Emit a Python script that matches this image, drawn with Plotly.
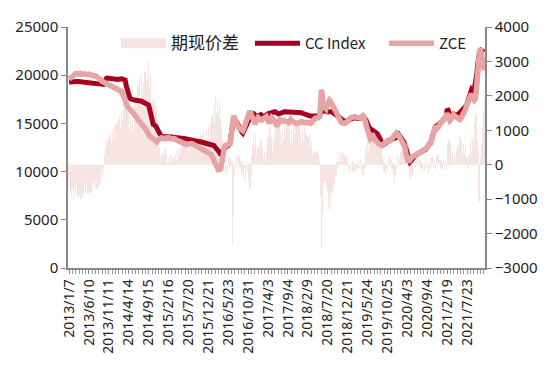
import plotly.graph_objects as go

tick_labels = ["2013/1/7", "2013/6/10", "2013/11/11", "2014/4/14", "2014/9/15", "2015/2/16",
               "2015/7/20", "2015/12/21", "2016/5/23", "2016/10/31", "2017/4/3", "2017/9/4",
               "2018/2/9", "2018/7/20", "2018/12/21", "2019/5/24", "2019/10/25", "2020/4/3",
               "2020/9/4", "2021/2/19", "2021/7/23"]

cc_index = [
19300,19320,19340,19350,19360,19350,19340,19350,19360,19350,
19350,19340,19330,19320,19320,19310,19300,19300,19290,19280,
19300,19290,19270,19260,19250,19240,19230,19210,19200,19190,
19200,19180,19160,19140,19120,19100,19100,19080,19050,19300,
19600,19650,19700,19680,19650,19700,19660,19600,19580,19550,
19550,19560,19540,19550,19560,19580,19550,19600,19620,19600,
19600,19550,19500,19000,18500,18200,17900,17700,17550,17500,
17450,17440,17420,17400,17400,17400,17380,17350,17320,17300,
17300,17250,17200,17150,17120,17100,17050,17000,16900,16500,
16000,15400,15000,14900,14850,14800,14700,14500,14300,14000,
13800,13700,13650,13600,13620,13640,13650,13660,13640,13650,
13650,13620,13600,13580,13560,13550,13540,13520,13510,13500,
13500,13490,13480,13470,13460,13450,13440,13430,13420,13410,
13400,13380,13360,13340,13320,13300,13280,13260,13240,13220,
13200,13180,13160,13140,13120,13100,13080,13060,13040,13020,
13000,12980,12960,12940,12920,12900,12850,12800,12750,12720,
12700,12600,12500,12400,12300,12200,12100,11900,11700,11900,
12300,12500,12600,12600,12600,12600,12700,12850,13000,13700,
14500,15100,15600,15500,15300,15200,15000,14800,14600,14400,
14200,14100,14000,14200,14400,14600,14900,15200,15400,15600,
15700,15800,15900,15950,16000,15900,15800,15750,15700,15800,
15850,15900,15900,15800,15750,15700,15700,15800,15900,15950,
16000,16050,16050,16100,16100,16150,16200,16200,16200,16100,
16050,16000,16000,16050,16100,16100,16100,16150,16200,16200,
16200,16150,16100,16100,16100,16100,16150,16150,16200,16200,
16200,16200,16150,16150,16150,16150,16100,16100,16050,16000,
16000,15950,15900,15850,15800,15800,15780,15760,15750,15750,
15750,15760,15780,15800,15800,15800,15850,15900,16100,16200,
16300,16300,16300,16250,16200,16200,16200,16220,16240,16250,
16250,16200,16100,16000,15900,15850,15800,15750,15700,15600,
15500,15400,15300,15250,15200,15200,15200,15250,15300,15350,
15400,15450,15500,15550,15600,15600,15600,15550,15500,15500,
15500,15500,15550,15600,15600,15600,15550,15500,15400,15200,
14900,14600,14500,14450,14400,14300,14200,14150,14100,14050,
14000,13900,13700,13550,13400,13200,13000,12800,12800,12850,
12900,13000,13100,13200,13300,13300,13350,13350,13400,13400,
13400,13500,13800,14100,13900,13700,13600,13400,13300,13200,
13100,12800,12400,12100,11800,11500,11200,11000,11100,11300,
11400,11500,11600,11700,11750,11800,11850,11900,11950,12000,
12000,12050,12100,12200,12300,12400,12500,12650,12800,12950,
13100,13500,13900,14300,14600,14650,14700,14750,14800,14900,
15000,15100,15200,15300,15400,15500,15600,15700,16500,16400,
16100,15800,15800,15900,16000,16000,15950,15900,15900,15850,
15900,16000,16100,16150,16200,16300,16400,16500,16700,16850,
17000,17300,17700,18100,18500,18500,18400,18300,18500,19000,
19500,20300,21300,22200,22500,22600,22550,22500,22450,22400]

zce = [
19600,19700,19800,19900,20000,20100,20200,20150,20100,20150,
20100,20150,20200,20100,20150,20200,20250,20150,20100,20050,
20000,20050,20100,20050,20100,20100,20050,20000,19950,19900,
19900,19850,19800,19700,19600,19500,19400,19350,19300,19250,
19200,19150,19100,19000,18950,18900,18850,18800,18750,18720,
18700,18650,18600,18550,18500,18500,18450,18400,18300,18100,
17800,17600,17400,17200,16900,16700,16600,16500,16400,16350,
16300,16100,15950,15800,15700,15600,15400,15250,15100,15000,
15000,14800,14700,14600,14500,14400,14300,14100,13900,13700,
13600,13550,13500,13400,13300,13200,13150,13100,13250,13350,
13400,13450,13500,13450,13400,13350,13300,13400,13500,13550,
13550,13450,13400,13350,13400,13450,13500,13400,13300,13250,
13200,13150,13100,13050,13000,13000,12950,12900,12850,12800,
12800,12850,12900,12900,12850,12900,12900,12850,12800,12750,
12700,12650,12600,12550,12450,12400,12400,12350,12350,12300,
12300,12250,12200,12150,12050,12000,11900,11800,11600,11400,
11200,11000,10700,10400,10300,10200,10200,10250,10500,11000,
11800,12600,12650,12700,12700,12750,12800,12850,12900,13600,
14500,15200,15800,15500,15200,15000,14800,14600,14500,14400,
14300,14200,14250,14450,14700,14900,15050,15200,15500,15900,
16300,16000,15700,15400,15200,15100,15100,15300,15450,15600,
15500,15400,15300,15350,15450,15500,15550,15650,15700,15500,
15300,15000,15200,15400,15600,15500,15400,15300,15100,14900,
14700,14900,15100,15400,15350,15250,15200,15250,15300,15250,
15150,15050,15000,15100,15250,15400,15300,15200,15100,15050,
15000,15000,15000,15050,15150,15250,15300,15200,15100,15050,
15000,15000,15050,15100,15050,14950,14900,15000,15100,15250,
15400,15450,15500,15550,15500,15550,15650,15700,16800,18500,
17800,16800,16700,16600,16500,16800,17100,17300,17400,17300,
17100,16900,16800,16500,16200,16000,15800,15700,15600,15400,
15200,15100,15050,15000,15000,15000,15050,15200,15350,15450,
15500,15550,15600,15650,15650,15700,15700,15650,15600,15600,
15550,15500,15550,15650,15750,15800,15700,15500,15000,14600,
14300,14000,13700,13400,13500,13650,13700,13500,13300,13100,
13100,13000,12900,12800,12750,12700,12700,12800,12900,13000,
13100,13200,13200,13150,13100,13200,13300,13400,13450,13600,
13800,13900,14000,13900,13800,13600,13400,13100,13000,12900,
12800,12600,12000,11500,11100,11000,11100,11300,11400,11500,
11550,11600,11650,11700,11750,11800,11800,11850,11900,12000,
12100,12150,12200,12250,12300,12400,12600,12800,12900,13000,
13000,13300,13800,14300,14500,14700,14600,14500,14600,14800,
15000,15100,15200,15300,15400,15500,15600,15800,16000,15800,
15500,15300,15400,15600,15800,15900,15800,15700,15600,15500,
15500,15400,15400,15500,15650,15800,15900,16100,16400,16700,
17000,17300,17500,17700,17900,17900,17800,17600,17400,17500,
18200,19500,21000,22300,22700,22600,22000,21500,21000,20500]

spread = [
-400,-750,-550,-900,-700,-1000,-650,-850,-550,-950,
-600,-900,-700,-1000,-500,-850,-950,-600,-800,-500,
-700,-850,-500,-800,-650,-900,-550,-750,-450,-700,
-550,-700,-400,-600,-300,-500,-200,-350,-100,300,
500,300,700,450,800,550,950,600,1000,700,
1100,750,1200,900,1300,1000,1400,1100,1600,1300,
2000,1500,2300,1700,1900,1300,1600,1000,1400,900,
1300,1000,1700,1200,2000,1400,2300,1700,2500,1900,
2600,2000,2400,1800,2700,2100,2500,1900,3000,2200,
2600,1600,1900,1200,1800,1300,1700,1100,1300,600,
500,200,350,100,300,150,450,200,300,50,
200,80,300,150,250,60,180,100,300,150,
400,200,500,300,600,350,550,300,700,450,
700,400,600,300,550,350,500,250,600,350,
650,400,700,450,800,500,850,550,900,600,
800,600,1000,650,1100,700,1200,800,1400,1000,
1700,1200,2000,1500,1900,1400,1700,1300,1100,700,
400,-200,100,-300,0,-250,100,-100,200,-50,
100,-2300,-1500,-300,200,-100,300,50,250,-100,
100,-250,-50,-400,-100,-500,100,-200,50,-400,
-700,-300,300,600,900,500,800,300,500,100,
500,300,700,250,450,150,350,100,400,300,
800,600,1100,500,800,400,900,700,1200,800,
1300,900,1100,500,900,600,1000,700,1100,800,
1200,900,1300,800,1000,600,1000,700,1200,900,
1300,900,1200,800,1100,700,900,600,1000,700,
1100,700,900,500,800,600,900,500,700,300,
400,200,350,150,400,200,300,100,-900,-2400,
-1400,-600,-300,-500,-200,-700,-800,-1300,-900,-1200,
-700,-900,-500,-600,-200,-300,100,-100,200,50,
400,200,350,150,300,100,250,0,100,-150,
0,-200,50,-150,100,-200,0,-150,50,-100,
100,-100,150,-150,0,-300,50,-100,500,300,
700,400,900,1100,700,900,400,800,600,1000,
700,1000,600,900,500,600,200,100,-200,50,
-300,-100,-200,150,250,0,150,-150,50,-300,
-500,-300,-100,300,0,200,100,400,150,350,
200,400,300,700,500,600,200,-400,-200,-300,
-100,-200,100,-100,150,-50,200,0,150,-100,
50,-200,0,-150,100,-100,50,-250,0,-100,
200,0,250,-100,200,-150,250,100,300,0,
150,-100,100,-150,150,-50,100,-200,600,300,
700,300,600,200,400,0,300,100,400,200,
500,400,800,500,700,300,600,300,500,100,
200,-100,300,200,700,400,800,500,1200,1000,
1500,700,400,-1100,-300,200,600,1100,1500,1900]

n = len(cc_index)
x = list(range(n))
tick_idx = [i * 22 for i in range(len(tick_labels))]
bar_color = "#F6E4E3"

fig = go.Figure()
fig.add_trace(go.Bar(x=x, y=spread, name="期现价差", yaxis="y", showlegend=False,
                     marker=dict(color=bar_color, line=dict(width=0)), width=0.4))
# legend proxy for the spread bars (wide swatch as in the original)
fig.add_trace(go.Scatter(x=[None], y=[None], yaxis="y", mode="lines",
                         name="<span style='font-size:17px'>期现价差</span>",
                         line=dict(color=bar_color, width=11)))
fig.add_trace(go.Scatter(x=x, y=cc_index, name="CC Index", yaxis="y2", mode="lines",
                         line=dict(color="#A50021", width=5)))
fig.add_trace(go.Scatter(x=x, y=zce, name="ZCE", yaxis="y2", mode="lines",
                         line=dict(color="#E6A5A5", width=5.5)))

axis_font = dict(family="Noto Sans", size=14, color="#222222")
fig.update_layout(
    width=550, height=381,
    margin=dict(l=68, r=62, t=27, b=113),
    paper_bgcolor="white", plot_bgcolor="white",
    font=dict(family="Noto Sans, Noto Sans CJK SC", size=13, color="#222222"),
    bargap=0.3,
    showlegend=True,
    legend=dict(orientation="h", x=0.115, y=1.0, xanchor="left", yanchor="top",
                bgcolor="rgba(0,0,0,0)", font=dict(family="Noto Sans CJK SC, Noto Sans", size=15, color="#222222"),
                itemwidth=45, entrywidth=74, tracegroupgap=0),
    xaxis=dict(range=[-1.2, n - 0.2], tickmode="array", tickvals=tick_idx, ticktext=tick_labels,
               tickangle=-90, ticks="outside", ticklen=4, tickcolor="#888888",
               showline=True, linecolor="#888888", linewidth=1.5, showgrid=False, zeroline=False,
               tickfont=axis_font,
               minor=dict(tickmode="linear", tick0=0, dtick=22/6, ticks="outside", ticklen=4,
                          tickcolor="#999999", showgrid=False)),
    yaxis=dict(range=[-3000, 4000], dtick=1000, side="right", ticks="outside", ticklen=5,
               tickcolor="#888888", showline=True, linecolor="#888888", linewidth=1.5,
               showgrid=False, zeroline=False, tickfont=dict(family="Noto Sans", size=15, color="#222222"),
               tickformat="d"),
    yaxis2=dict(range=[0, 25000], dtick=5000, side="left", overlaying="y", ticks="outside",
                ticklen=5, tickcolor="#888888", showline=True, linecolor="#888888", linewidth=1.5,
                showgrid=False, zeroline=False, tickfont=dict(family="Noto Sans", size=15, color="#222222"),
                tickformat="d"),
)

fig.write_html("out.html")
